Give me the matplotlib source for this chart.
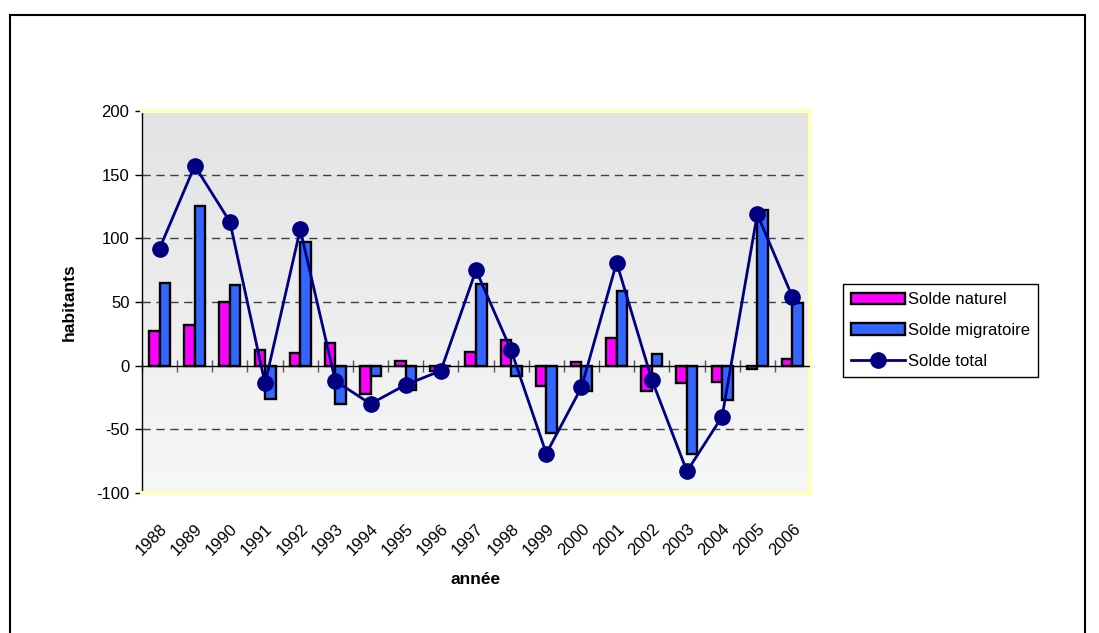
import numpy as np
import matplotlib
matplotlib.use('Agg')
import matplotlib.pyplot as plt
from matplotlib.patches import Rectangle

plt.rcParams['font.family'] = ['Liberation Sans', 'DejaVu Sans']
plt.rcParams['axes.unicode_minus'] = False

annees = ['1988', '1989', '1990', '1991', '1992', '1993', '1994', '1995', '1996', '1997',
          '1998', '1999', '2000', '2001', '2002', '2003', '2004', '2005', '2006']
solde_naturel = [27, 32, 50, 12, 10, 18, -22, 4, -4, 11, 20, -16, 3, 22, -20, -14, -13, -3, 5]
solde_migratoire = [65, 125, 63, -26, 97, -30, -8, -19, 0, 64, -8, -53, -20, 59, 9, -69, -27, 122, 49]
solde_total = [92, 157, 113, -14, 107, -12, -30, -15, -4, 75, 12, -69, -17, 81, -11, -83, -40, 119, 54]

W, H = 1099, 633
fig = plt.figure(figsize=(W / 100, H / 100), dpi=100)
ax = fig.add_axes([142 / W, 1 - 493 / H, (810 - 142) / W, (493 - 111) / H])

x = np.arange(len(annees))
bw = 0.3
fs = 12

# fond en degrade
grad = np.linspace(0, 1, 256).reshape(-1, 1)
ax.imshow(grad, extent=[0, 1, 0, 1], transform=ax.transAxes, aspect='auto',
          cmap=matplotlib.colors.LinearSegmentedColormap.from_list('g', ['#e3e3e3', '#f7f7f7']),
          zorder=0)

for yv in [150, 100, 50, -50]:
    ax.axhline(yv, color='#404040', lw=1, ls=(0, (6, 4)), zorder=1)

b1 = ax.bar(x - bw / 2, solde_naturel, bw, color='#ff00ff', edgecolor='black', lw=1.7,
            label='Solde naturel', zorder=3)
b2 = ax.bar(x + bw / 2, solde_migratoire, bw, color='#3366ff', edgecolor='black', lw=1.7,
            label='Solde migratoire', zorder=3)
ax.axhline(0, color='black', lw=1, zorder=4)
l1, = ax.plot(x, solde_total, color='#000080', lw=2, marker='o', ms=11,
              label='Solde total', zorder=5)

ax.set_xlim(-0.5, len(annees) - 0.5)
ax.set_ylim(-100, 200)
ax.set_yticks([-100, -50, 0, 50, 100, 150, 200])
ax.tick_params(axis='y', length=5, width=1, labelsize=fs, pad=4)

ax.set_xticks(x)
ax.set_xticklabels(annees, rotation=45, ha='right', rotation_mode='anchor')
ax.tick_params(axis='x', length=0, labelsize=fs, pad=20)

# ticks on the zero line
sec = ax.secondary_xaxis(1 / 3)
sec.set_xticks(np.arange(len(annees) + 1) - 0.5)
sec.set_xticklabels([])
sec.tick_params(direction='inout', length=8, width=1, color='#555555')
sec.spines['bottom'].set_visible(False)
sec.spines['top'].set_visible(False)

for s in ['top', 'right', 'bottom']:
    ax.spines[s].set_color('#ffffc0')
    ax.spines[s].set_linewidth(3)
ax.spines['left'].set_color('black')
ax.spines['left'].set_linewidth(1)

ax.set_ylabel('habitants', fontsize=12.5, fontweight='bold', labelpad=14)
ax.set_xlabel('année', fontsize=12.5, fontweight='bold', labelpad=10)

fig.legend(handles=[b1, b2, l1], loc='upper left', bbox_to_anchor=(843 / W, 1 - 284 / H),
           fontsize=fs, frameon=True, fancybox=False, edgecolor='black', framealpha=1,
           handlelength=3.2, handleheight=0.7, labelspacing=0.95, borderpad=0.5,
           handletextpad=0.2, borderaxespad=0)

fig.patches.append(Rectangle((10 / W, -0.1), (1085 - 10) / W, 1.1 - 15 / H,
                             transform=fig.transFigure, fill=False, edgecolor='black',
                             lw=1.5, zorder=0))

fig.savefig('out.png', dpi=100)
